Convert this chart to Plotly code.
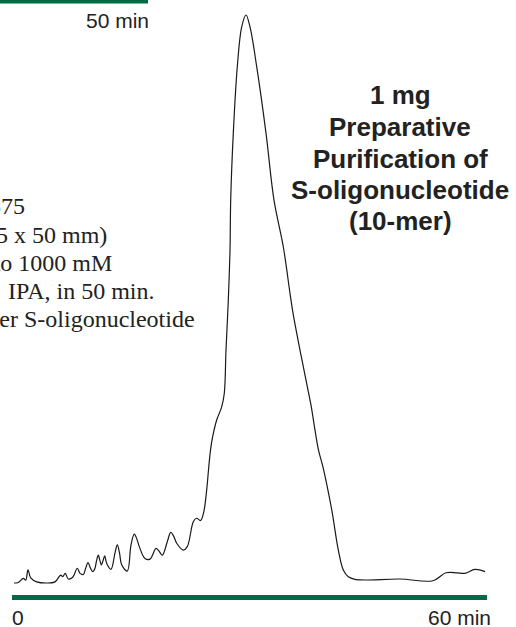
import plotly.graph_objects as go

# Chromatogram trace: retention time (min) and detector response (relative absorbance)
time_min = [
    0.253, 0.796, 1.427, 1.731, 2.021, 2.362, 3.120, 4.383, 5.432, 6.152,
    6.404, 6.733, 7.112, 7.667, 8.248, 8.589, 9.006, 9.284, 9.600, 9.916,
    10.194, 10.484, 10.674, 10.901, 11.116, 11.280, 11.495, 11.709, 11.874, 12.038,
    12.505, 13.011, 13.301, 13.579, 13.857, 14.564, 15.032, 15.448, 15.853, 16.080,
    16.800, 17.432, 18.189, 18.531, 18.985, 19.642, 20.046, 20.400, 20.804, 21.638,
    22.143, 22.901, 23.305, 23.811, 24.189, 24.594, 24.821, 25.074, 25.352, 25.857,
    26.488, 26.817, 27.032, 27.322, 27.537, 27.625, 27.954, 28.459, 29.015, 29.558,
    30.063, 30.909, 32.084, 33.095, 34.269, 35.116, 35.495, 36.379, 37.137, 37.768,
    38.274, 38.716, 39.284, 40.383, 41.217, 41.848, 42.480, 43.453, 49.011, 53.179,
    54.821, 56.211, 57.221, 58.484, 59.747,
]
absorbance = [
    0.000, 0.001, 0.008, 0.005, 0.023, 0.009, 0.002, 0.000, 0.002, 0.014,
    0.011, 0.017, 0.007, 0.010, 0.026, 0.017, 0.015, 0.025, 0.036, 0.026,
    0.020, 0.026, 0.039, 0.049, 0.039, 0.032, 0.039, 0.048, 0.039, 0.032,
    0.024, 0.053, 0.067, 0.053, 0.032, 0.021, 0.067, 0.086, 0.074, 0.064,
    0.043, 0.042, 0.061, 0.057, 0.049, 0.074, 0.089, 0.083, 0.070, 0.058,
    0.064, 0.108, 0.114, 0.110, 0.123, 0.164, 0.199, 0.234, 0.258, 0.287,
    0.310, 0.334, 0.410, 0.498, 0.586, 0.674, 0.792, 0.909, 0.979, 1.000,
    0.979, 0.909, 0.792, 0.674, 0.592, 0.510, 0.475, 0.410, 0.357, 0.313,
    0.269, 0.234, 0.204, 0.129, 0.058, 0.023, 0.011, 0.006, 0.007, 0.004,
    0.018, 0.018, 0.017, 0.024, 0.020,
]

# Time axis end points and their labels
time_axis = [0, 60]
time_labels = ["0", "60 min"]
gradient_label = "50 min"

title_lines = [
    "1 mg",
    "Preparative",
    "Purification of",
    "S-oligonucleotide",
    "(10-mer)",
]
condition_lines = [
    "Column: TSKgel DEAE-NPR 575",
    "(21.5 x 50 mm)",
    "Gradient: 0 to 1000 mM",
    "IPA, in 50 min.",
    "Sample: 10-mer S-oligonucleotide",
]

GREEN = "#006b44"
W, H = 516, 627

fig = go.Figure()
fig.add_trace(go.Scatter(
    x=time_min, y=absorbance, mode="lines",
    line=dict(color="#1a1a1a", width=1.2, shape="spline", smoothing=1.0),
    hoverinfo="skip", showlegend=False,
))

# Bottom time bar (0 - 60 min)
fig.add_shape(type="rect", xref="x", yref="paper",
              x0=time_axis[0], x1=time_axis[1],
              y0=(H - 600) / H, y1=(H - 595) / H,
              fillcolor=GREEN, line=dict(width=0))
# Gradient bar ending at 50 min
fig.add_shape(type="rect", xref="paper", yref="paper",
              x0=-0.05, x1=148 / W, y0=(H - 3.5) / H, y1=1.02,
              fillcolor=GREEN, line=dict(width=0))

sans = "Liberation Sans, Arial, sans-serif"
serif = "Liberation Serif, Times New Roman, serif"

fig.add_annotation(x=time_axis[0], y=(H - 617) / H, xref="x", yref="paper",
                   text=time_labels[0], showarrow=False, xanchor="left", yanchor="middle",
                   xshift=-2, font=dict(family=sans, size=21, color="#222"))
fig.add_annotation(x=time_axis[1], y=(H - 617) / H, xref="x", yref="paper",
                   text=time_labels[1], showarrow=False, xanchor="right", yanchor="middle",
                   xshift=6, font=dict(family=sans, size=21, color="#222"))
fig.add_annotation(x=149 / W, y=(H - 21) / H, xref="paper", yref="paper",
                   text=gradient_label, showarrow=False, xanchor="right", yanchor="middle",
                   xshift=2, font=dict(family=sans, size=21, color="#222"))

# Title block
title_y = [95, 127, 159, 190, 221]
for txt, yy in zip(title_lines, title_y):
    fig.add_annotation(x=400 / W, y=(H - yy) / H, xref="paper", yref="paper",
                       text=f"<b>{txt}</b>", showarrow=False, xanchor="center", yanchor="middle",
                       font=dict(family=sans, size=26, color="#222"))

# Run conditions (block runs off the left edge)
cond_right = [25, 107, 112, 154, 195]
cond_y = [206, 235, 263, 291, 319]
for txt, xr, yy in zip(condition_lines, cond_right, cond_y):
    fig.add_annotation(x=xr / W, y=(H - yy) / H, xref="paper", yref="paper",
                       text=txt, showarrow=False, xanchor="right", yanchor="middle",
                       xshift=2, font=dict(family=serif, size=24, color="#222"))

fig.update_layout(
    width=W, height=H,
    margin=dict(l=0, r=0, t=0, b=0),
    paper_bgcolor="white", plot_bgcolor="white",
    xaxis=dict(domain=[12 / W, 487 / W], range=[0, 60], visible=False),
    yaxis=dict(domain=[0, 1], range=[(583 - H) / 568, 583 / 568], visible=False),
)

fig.write_html("out.html")
